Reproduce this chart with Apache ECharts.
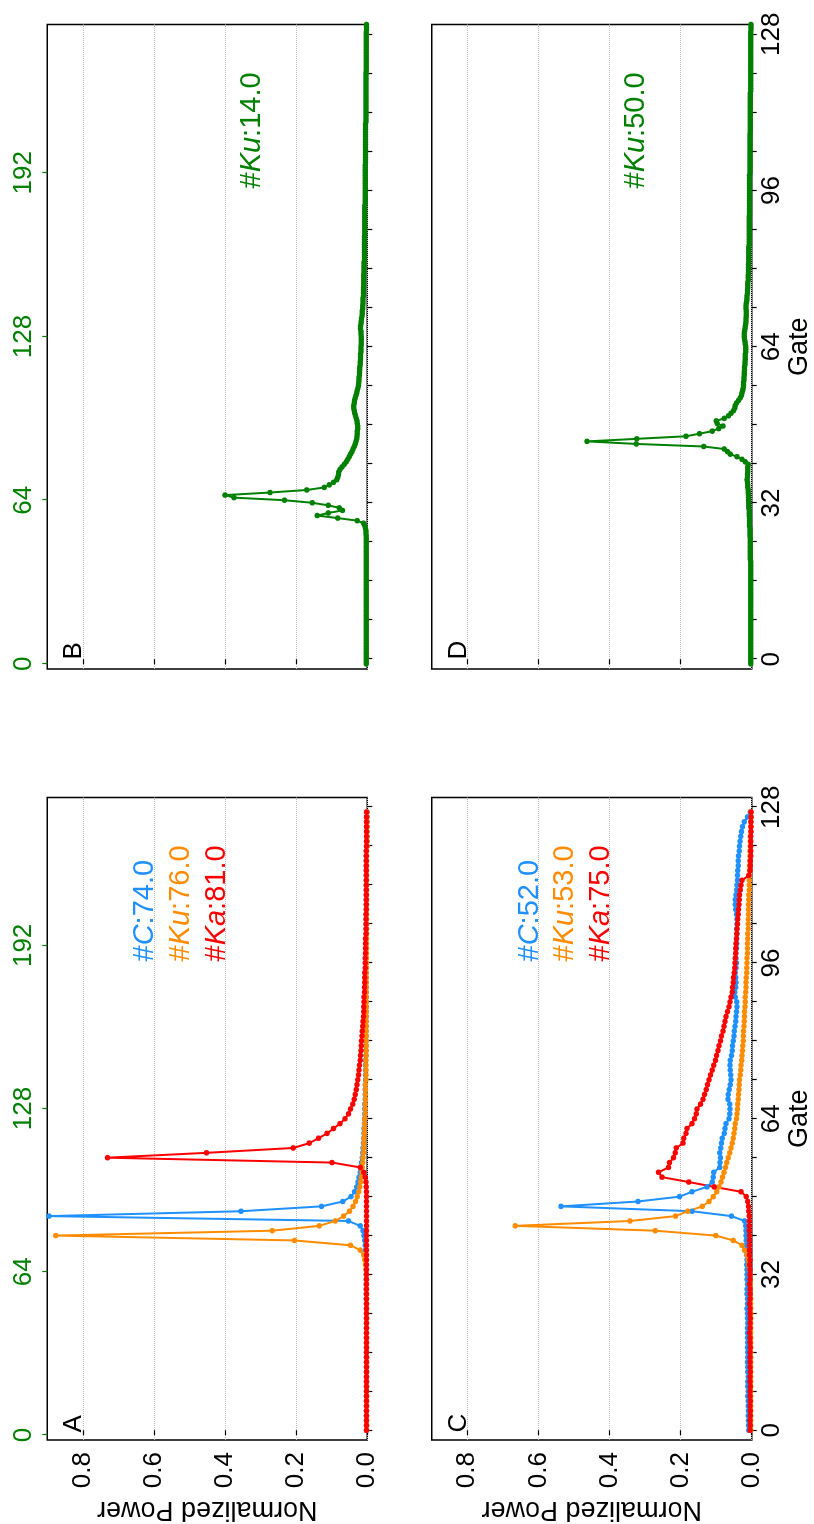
<!DOCTYPE html>
<html>
<head>
<meta charset="utf-8">
<script src="https://cdn.jsdelivr.net/npm/echarts@6.0.0/dist/echarts.min.js"></script>
<style>
html, body { margin: 0; padding: 0; width: 814px; height: 1524px; overflow: hidden; background: #fff; }
/* the figure is drawn landscape and turned a quarter turn counter-clockwise */
#chart { position: absolute; left: 0; top: 0; width: 1524px; height: 814px;
         transform-origin: 0 0; transform: translate(0px, 1524px) rotate(-90deg); }
</style>
</head>
<body>
<div id="chart"></div>
<script>
var FONT = '"Liberation Sans", Arial, sans-serif';

// tick values
var gateTicks = [0, 8, 16, 24, 32, 40, 48, 56, 64, 72, 80, 88, 96, 104, 112, 120, 128];
var gateLabels = [0, 32, 64, 96, 128];
var topTicks = [0, 64, 128, 192];
var powerTicks = [0, 0.2, 0.4, 0.6, 0.8];

// panel A, 128 gates
var aC = [
  0.002,0.002,0.002,0.002,0.002,0.002,0.002,0.002,0.002,0.002,0.002,0.002,0.002,0.002,0.002,0.002,
  0.002,0.002,0.002,0.002,0.002,0.002,0.002,0.002,0.002,0.002,0.002,0.003,0.003,0.003,0.003,0.003,
  0.003,0.003,0.004,0.004,0.004,0.005,0.006,0.007,0.009,0.012,0.020,0.053,0.895,0.355,0.129,0.069,
  0.046,0.036,0.030,0.026,0.023,0.020,0.018,0.016,0.014,0.013,0.012,0.011,0.010,0.009,0.009,0.008,
  0.008,0.007,0.007,0.007,0.006,0.006,0.006,0.006,0.005,0.005,0.005,0.005,0.005,0.004,0.004,0.004,
  0.004,0.004,0.004,0.004,0.004,0.003,0.003,0.003,0.003,0.003,0.003,0.003,0.003,0.003,0.003,0.003,
  0.003,0.003,0.003,0.002,0.002,0.002,0.002,0.002,0.002,0.002,0.002,0.002,0.002,0.002,0.002,0.002,
  0.002,0.002,0.002,0.002,0.002,0.002,0.002,0.002,0.001,0.001,0.001,0.001,0.001,0.001,0.001,0.001
];
var aKu = [
  0.002,0.002,0.002,0.002,0.002,0.002,0.002,0.002,0.002,0.002,0.002,0.002,0.002,0.002,0.002,0.002,
  0.002,0.002,0.002,0.002,0.002,0.002,0.002,0.002,0.002,0.002,0.002,0.002,0.002,0.003,0.003,0.003,
  0.003,0.004,0.005,0.007,0.010,0.020,0.047,0.205,0.876,0.267,0.135,0.090,0.067,0.050,0.040,0.033,
  0.028,0.024,0.021,0.019,0.017,0.015,0.014,0.013,0.012,0.011,0.010,0.009,0.009,0.008,0.008,0.007,
  0.007,0.006,0.006,0.006,0.005,0.005,0.005,0.005,0.004,0.004,0.004,0.004,0.004,0.003,0.003,0.003,
  0.003,0.003,0.003,0.003,0.003,0.003,0.003,0.003,0.003,0.003,0.003,0.003,0.003,0.003,0.003,0.003,
  0.002,0.002,0.002,0.002,0.002,0.002,0.002,0.002,0.002,0.002,0.002,0.002,0.002,0.002,0.002,0.002,
  0.002,0.002,0.002,0.002,0.002,0.002,0.002,0.002,0.001,0.001,0.001,0.001,0.001,0.001,0.001,0.001
];
var aKa = [
  0.002,0.002,0.002,0.002,0.002,0.002,0.002,0.002,0.002,0.002,0.002,0.002,0.002,0.002,0.002,0.002,
  0.002,0.002,0.002,0.002,0.002,0.002,0.002,0.002,0.002,0.002,0.002,0.002,0.002,0.002,0.002,0.002,
  0.002,0.002,0.002,0.002,0.002,0.002,0.002,0.002,0.002,0.002,0.002,0.002,0.002,0.002,0.002,0.002,
  0.002,0.002,0.003,0.004,0.006,0.010,0.020,0.099,0.731,0.452,0.208,0.163,0.137,0.113,0.095,0.077,
  0.063,0.053,0.047,0.041,0.037,0.034,0.031,0.029,0.027,0.025,0.023,0.022,0.020,0.019,0.018,0.017,
  0.016,0.015,0.014,0.013,0.012,0.011,0.010,0.010,0.009,0.009,0.008,0.008,0.007,0.007,0.007,0.006,
  0.006,0.006,0.005,0.005,0.005,0.005,0.004,0.004,0.004,0.004,0.004,0.003,0.003,0.003,0.003,0.003,
  0.003,0.003,0.003,0.003,0.003,0.003,0.003,0.003,0.002,0.002,0.002,0.002,0.002,0.002,0.002,0.002
];

// panel C, 128 gates
var cC = [
  0.008,0.009,0.009,0.010,0.009,0.010,0.010,0.011,0.010,0.011,0.011,0.010,0.011,0.011,0.012,0.011,
  0.011,0.012,0.011,0.012,0.012,0.012,0.011,0.012,0.012,0.013,0.012,0.012,0.013,0.013,0.012,0.013,
  0.013,0.013,0.014,0.013,0.014,0.014,0.015,0.015,0.016,0.016,0.017,0.020,0.057,0.168,0.536,0.320,
  0.203,0.168,0.126,0.111,0.108,0.107,0.090,0.089,0.088,0.090,0.087,0.085,0.083,0.077,0.075,0.072,
  0.064,0.062,0.061,0.062,0.067,0.066,0.063,0.060,0.058,0.059,0.060,0.061,0.060,0.057,0.055,0.054,
  0.052,0.050,0.049,0.047,0.045,0.044,0.043,0.041,0.042,0.046,0.048,0.045,0.044,0.045,0.046,0.044,
  0.043,0.044,0.045,0.043,0.042,0.043,0.041,0.042,0.041,0.041,0.043,0.045,0.046,0.046,0.044,0.042,
  0.041,0.040,0.040,0.039,0.038,0.038,0.037,0.035,0.034,0.033,0.031,0.029,0.026,0.021,0.012,0.004
];
var cKu = [
  0.003,0.003,0.003,0.003,0.003,0.003,0.003,0.003,0.003,0.003,0.003,0.003,0.003,0.003,0.003,0.003,
  0.003,0.003,0.003,0.003,0.003,0.003,0.003,0.003,0.003,0.003,0.003,0.003,0.004,0.004,0.004,0.004,
  0.005,0.006,0.008,0.010,0.013,0.020,0.027,0.052,0.101,0.271,0.665,0.342,0.214,0.180,0.139,0.120,
  0.108,0.098,0.092,0.086,0.082,0.078,0.074,0.070,0.066,0.062,0.058,0.055,0.052,0.050,0.048,0.046,
  0.043,0.041,0.040,0.039,0.038,0.037,0.036,0.035,0.034,0.032,0.031,0.030,0.028,0.027,0.026,0.025,
  0.024,0.024,0.023,0.022,0.021,0.020,0.020,0.019,0.018,0.018,0.017,0.016,0.016,0.015,0.014,0.014,
  0.013,0.013,0.012,0.012,0.012,0.011,0.011,0.010,0.010,0.010,0.009,0.009,0.009,0.008,0.008,0.007,
  0.007,0.007,0.006,0.006,0.006,0.005,0.005,0.005,0.004,0.004,0.004,0.003,0.003,0.003,0.002,0.002
];
var cKa = [
  0.005,0.004,0.005,0.004,0.004,0.005,0.004,0.005,0.005,0.004,0.005,0.005,0.004,0.005,0.005,0.005,
  0.005,0.004,0.005,0.005,0.006,0.005,0.005,0.004,0.005,0.005,0.006,0.005,0.005,0.005,0.006,0.005,
  0.005,0.005,0.006,0.005,0.006,0.006,0.006,0.006,0.006,0.007,0.007,0.007,0.007,0.008,0.009,0.011,
  0.015,0.030,0.105,0.177,0.252,0.262,0.234,0.231,0.220,0.215,0.212,0.193,0.191,0.185,0.182,0.168,
  0.161,0.156,0.154,0.144,0.137,0.133,0.128,0.124,0.120,0.116,0.111,0.107,0.102,0.099,0.095,0.092,
  0.088,0.085,0.081,0.078,0.075,0.072,0.068,0.064,0.061,0.058,0.055,0.054,0.052,0.051,0.049,0.048,
  0.047,0.046,0.045,0.045,0.044,0.043,0.042,0.041,0.040,0.039,0.038,0.037,0.036,0.035,0.034,0.032,
  0.030,0.027,0.008,0.005,0.004,0.004,0.003,0.003,0.003,0.003,0.003,0.002,0.002,0.002,0.002,0.002
];

// panels B and D, 256 gates (plotted on the 0..256 scale)
var bKu = [
  0.003,0.003,0.003,0.003,0.003,0.003,0.003,0.003,0.003,0.003,0.003,0.003,0.003,0.003,0.003,0.003,
  0.003,0.003,0.003,0.003,0.003,0.003,0.003,0.003,0.003,0.003,0.003,0.003,0.003,0.003,0.003,0.003,
  0.003,0.003,0.003,0.003,0.003,0.003,0.003,0.003,0.003,0.003,0.003,0.003,0.003,0.003,0.003,0.003,
  0.003,0.003,0.003,0.004,0.004,0.005,0.007,0.011,0.028,0.083,0.141,0.110,0.070,0.079,0.110,0.155,
  0.233,0.375,0.400,0.274,0.170,0.121,0.107,0.095,0.086,0.083,0.081,0.080,0.077,0.071,0.065,0.059,
  0.055,0.051,0.047,0.043,0.040,0.037,0.034,0.032,0.030,0.029,0.028,0.028,0.027,0.027,0.028,0.029,
  0.031,0.033,0.035,0.037,0.038,0.038,0.037,0.036,0.034,0.032,0.030,0.028,0.026,0.025,0.024,0.023,
  0.023,0.022,0.022,0.021,0.021,0.020,0.020,0.019,0.019,0.019,0.018,0.018,0.018,0.017,0.017,0.017,
  0.017,0.018,0.018,0.019,0.019,0.018,0.017,0.016,0.015,0.014,0.014,0.013,0.013,0.012,0.012,0.012,
  0.011,0.011,0.011,0.011,0.010,0.010,0.010,0.010,0.010,0.009,0.009,0.009,0.009,0.009,0.008,0.008,
  0.008,0.008,0.008,0.008,0.008,0.008,0.008,0.008,0.007,0.007,0.007,0.007,0.007,0.007,0.007,0.007,
  0.007,0.007,0.007,0.007,0.006,0.006,0.006,0.006,0.006,0.006,0.006,0.006,0.006,0.006,0.006,0.006,
  0.006,0.006,0.006,0.006,0.005,0.005,0.005,0.005,0.005,0.005,0.005,0.005,0.005,0.005,0.005,0.005,
  0.005,0.005,0.005,0.005,0.004,0.004,0.004,0.004,0.004,0.004,0.004,0.004,0.004,0.004,0.004,0.004,
  0.004,0.004,0.004,0.004,0.004,0.004,0.004,0.004,0.003,0.003,0.003,0.003,0.003,0.003,0.003,0.003,
  0.003,0.003,0.003,0.003,0.003,0.003,0.003,0.003,0.002,0.002,0.002,0.002,0.002,0.002,0.002,0.002
];
var dKu = [
  0.003,0.003,0.003,0.003,0.003,0.003,0.003,0.003,0.003,0.003,0.003,0.003,0.003,0.003,0.003,0.003,
  0.003,0.003,0.003,0.003,0.003,0.003,0.003,0.003,0.003,0.003,0.003,0.003,0.003,0.003,0.003,0.003,
  0.003,0.003,0.003,0.003,0.003,0.003,0.003,0.003,0.003,0.004,0.004,0.004,0.004,0.004,0.004,0.004,
  0.004,0.004,0.005,0.005,0.005,0.005,0.006,0.006,0.006,0.006,0.007,0.007,0.007,0.008,0.008,0.008,
  0.009,0.009,0.009,0.010,0.010,0.011,0.011,0.012,0.013,0.012,0.012,0.011,0.011,0.011,0.010,0.018,
  0.027,0.041,0.060,0.068,0.077,0.135,0.325,0.463,0.323,0.185,0.147,0.111,0.093,0.081,0.097,0.100,
  0.077,0.065,0.058,0.051,0.048,0.046,0.043,0.037,0.032,0.029,0.027,0.025,0.024,0.023,0.023,0.022,
  0.022,0.021,0.021,0.020,0.020,0.019,0.019,0.018,0.018,0.018,0.017,0.017,0.017,0.018,0.019,0.020,
  0.021,0.021,0.020,0.019,0.018,0.017,0.016,0.016,0.015,0.015,0.015,0.016,0.016,0.015,0.014,0.013,
  0.013,0.012,0.012,0.011,0.011,0.011,0.010,0.010,0.010,0.009,0.009,0.009,0.009,0.008,0.008,0.008,
  0.008,0.008,0.008,0.008,0.007,0.007,0.007,0.007,0.007,0.007,0.007,0.007,0.007,0.007,0.007,0.007,
  0.006,0.006,0.006,0.006,0.006,0.006,0.006,0.006,0.006,0.006,0.006,0.006,0.006,0.006,0.006,0.006,
  0.005,0.005,0.005,0.005,0.005,0.005,0.005,0.005,0.005,0.005,0.005,0.005,0.005,0.005,0.005,0.005,
  0.004,0.004,0.004,0.004,0.004,0.004,0.004,0.004,0.004,0.004,0.004,0.004,0.004,0.004,0.004,0.004,
  0.003,0.003,0.003,0.003,0.003,0.003,0.003,0.003,0.003,0.003,0.003,0.003,0.003,0.003,0.003,0.003,
  0.003,0.003,0.003,0.003,0.003,0.003,0.003,0.003,0.002,0.002,0.002,0.002,0.002,0.002,0.002,0.002
];

// annotation texts: [band, peak gate]
var notesA = [['C', '74.0'], ['Ku', '76.0'], ['Ka', '81.0']];
var notesB = [['Ku', '14.0']];
var notesC = [['C', '52.0'], ['Ku', '53.0'], ['Ka', '75.0']];
var notesD = [['Ku', '50.0']];

var BLUE = '#1E90FF', ORANGE = '#FF8C00', RED = '#FF0000', GREEN = '#008000';
var bandColor = { C: BLUE, Ku: ORANGE, Ka: RED };

var panels = [
  { name: 'A', left: 82, top: 47.3, notes: notesA },
  { name: 'B', left: 855, top: 47.3, notes: notesB },
  { name: 'C', left: 82, top: 431.7, notes: notesC },
  { name: 'D', left: 855, top: 431.7, notes: notesD }
];
var W = 644.5, H = 320;

var grids = [], xAxes = [], yAxes = [], graphics = [];
panels.forEach(function (p, i) {
  var leftCol = (i % 2 === 0), bottomRow = (i >= 2);
  grids.push({ left: p.left, top: p.top, width: W, height: H, show: true,
               borderColor: '#000', borderWidth: 1.5, backgroundColor: 'transparent' });
  // bottom gate axis (0..128)
  xAxes.push({
    type: 'value', gridIndex: i, position: 'bottom', min: -2, max: 130,
    axisLine: { show: false }, splitLine: { show: false },
    axisTick: { show: true, customValues: gateTicks, length: 5, lineStyle: { color: '#000', width: 1.2 } },
    axisLabel: { show: bottomRow, customValues: gateLabels, margin: 7, color: '#000', fontSize: 26, fontFamily: FONT },
    name: bottomRow ? 'Gate' : '', nameLocation: 'middle', nameGap: 23,
    nameTextStyle: { color: '#000', fontSize: 27, fontFamily: FONT }
  });
  // top gate axis (0..256), green, only on the top row
  xAxes.push({
    type: 'value', gridIndex: i, position: 'top', min: -2, max: 250,
    axisLine: { show: false }, splitLine: { show: false },
    axisTick: { show: !bottomRow, customValues: topTicks, length: 5, lineStyle: { color: GREEN, width: 1.2 } },
    axisLabel: { show: !bottomRow, customValues: topTicks, margin: 10, color: GREEN, fontSize: 26, fontFamily: FONT }
  });
  yAxes.push({
    type: 'value', gridIndex: i, min: 0, max: 0.9, interval: 0.2,
    axisLine: { show: false },
    axisTick: { show: true, customValues: powerTicks, length: 5, lineStyle: { color: '#000', width: 1.2 } },
    axisLabel: { show: leftCol, customValues: powerTicks, margin: 12, color: '#000', fontSize: 26, fontFamily: FONT,
                 formatter: function (v) { return v.toFixed(1); } },
    splitLine: { show: true, lineStyle: { type: 'dotted', color: '#bdbdbd', width: 1 } },
    name: leftCol ? 'Normalized Power' : '', nameLocation: 'middle', nameGap: 56,
    nameTextStyle: { color: '#000', fontSize: 27, fontFamily: FONT }
  });
  // panel letter
  graphics.push({
    type: 'text', x: p.left + 9.5, y: p.top + 27, silent: true,
    style: { text: p.name, fill: '#000', fontSize: 26, fontFamily: FONT,
             align: 'left', verticalAlign: 'middle', textAlign: 'left', textVerticalAlign: 'middle' }
  });
  // annotations
  var nx = p.left + 480.5;
  var ny0 = leftCol ? p.top + 98 : p.top + 204.4;
  p.notes.forEach(function (n, k) {
    var col = leftCol ? bandColor[n[0]] : GREEN;
    graphics.push({
      type: 'text', x: nx, y: ny0 + k * 35.7, silent: true,
      style: {
        text: '#{i|' + n[0] + '}:' + n[1], fill: col, fontSize: 29, fontFamily: FONT,
        align: 'left', verticalAlign: 'middle', textAlign: 'left', textVerticalAlign: 'middle',
        rich: { i: { fontStyle: 'italic', fontSize: 29, fontFamily: FONT, fill: col } }
      }
    });
  });
});

function pairs(arr) { return arr.map(function (v, i) { return [i, v]; }); }
function line(arr, color, xi, yi) {
  return {
    type: 'line', data: pairs(arr), xAxisIndex: xi, yAxisIndex: yi,
    symbol: 'circle', symbolSize: 5.5, showSymbol: true, silent: true, clip: true,
    lineStyle: { color: color, width: 2 }, itemStyle: { color: color },
    emphasis: { disabled: true }
  };
}

var series = [
  line(aC, BLUE, 0, 0), line(aKu, ORANGE, 0, 0), line(aKa, RED, 0, 0),
  line(bKu, GREEN, 3, 1),
  line(cC, BLUE, 4, 2), line(cKu, ORANGE, 4, 2), line(cKa, RED, 4, 2),
  line(dKu, GREEN, 7, 3)
];

var myChart = echarts.init(document.getElementById('chart'), null, { renderer: 'canvas' });
myChart.setOption({
  animation: false,
  backgroundColor: '#fff',
  grid: grids,
  xAxis: xAxes,
  yAxis: yAxes,
  series: series,
  graphic: graphics
});
</script>
</body>
</html>
